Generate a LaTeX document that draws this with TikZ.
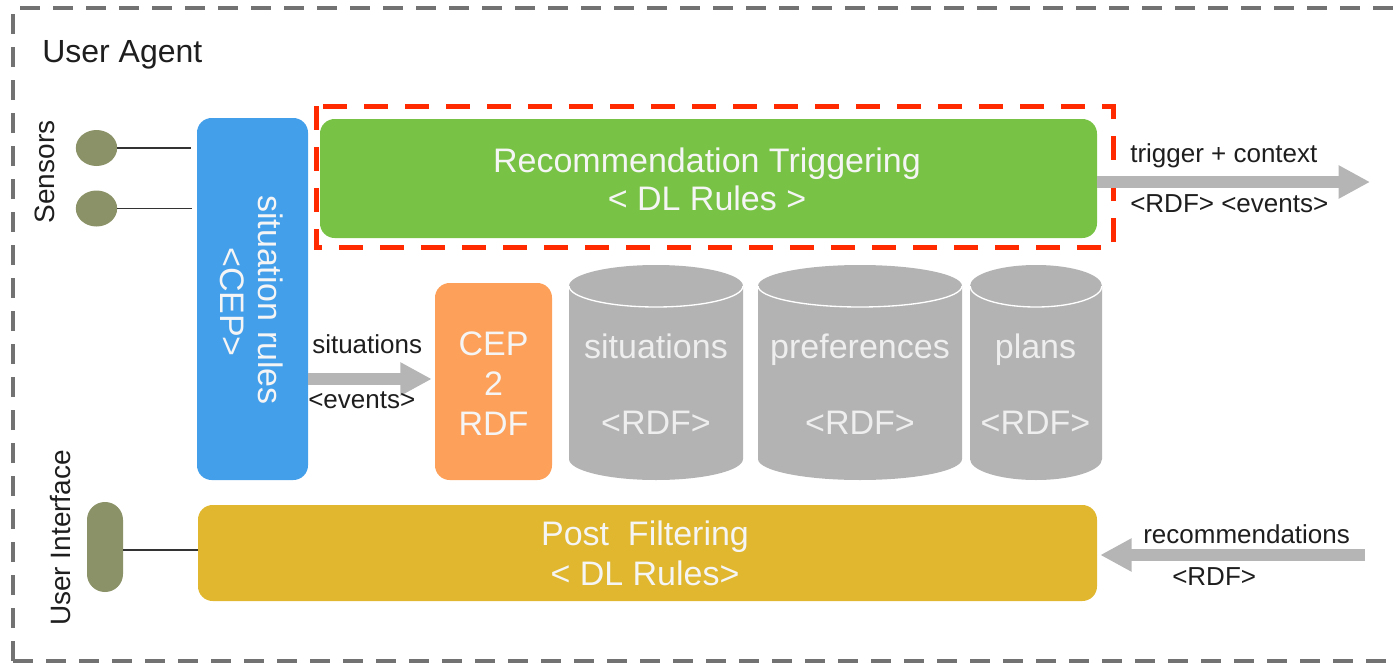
\documentclass[tikz,border=0pt]{standalone}
\usepackage{fontspec}
\setmainfont{Liberation Sans}
\usetikzlibrary{arrows.meta,shapes.geometric}

\definecolor{framegray}{HTML}{727272}
\definecolor{sitblue}{HTML}{449FEB}
\definecolor{recgreen}{HTML}{78C346}
\definecolor{focusred}{HTML}{FF2A00}
\definecolor{cepor}{HTML}{FCA05A}
\definecolor{postyel}{HTML}{E0B72E}
\definecolor{dbgray}{HTML}{B3B3B3}
\definecolor{arrowgray}{HTML}{B5B5B5}
\definecolor{olive}{HTML}{8C9268}
\definecolor{softwhite}{HTML}{F5F5F5}
\definecolor{dbtext}{HTML}{EEEEEE}
\definecolor{wire}{HTML}{333333}
\definecolor{ink}{HTML}{1E1E1E}

\tikzset{
  box/.style={rounded corners=11pt, inner sep=0pt, draw=none},
  bigtxt/.style={text=softwhite, font=\fontsize{25.5}{30}\selectfont, inner sep=0pt, anchor=base},
  dbtxt/.style={bigtxt, text=dbtext},
  smalltxt/.style={text=ink, font=\fontsize{19.5}{23}\selectfont, inner sep=0pt, anchor=base west},
  sidetxt/.style={text=ink, font=\fontsize{21}{25}\selectfont, inner sep=0pt, anchor=base, rotate=90},
  flow/.style={draw=arrowgray, line width=8.5pt, -{Triangle[width=23.5pt,length=23.5pt]}},
  wireline/.style={draw=wire, line width=1.4pt},
  sensor/.style={ellipse, fill=olive, draw=none, inner sep=0pt, minimum width=31pt, minimum height=27pt},
}

\begin{document}
\begin{tikzpicture}[x=0.75pt,y=-0.75pt]
\useasboundingbox (0,0) rectangle (1397,664);

% agent boundary
\draw[framegray, line width=2.3pt, dash pattern=on 15pt off 9.75pt]
  (13,661) -- (13,8) -- (1430,8);
\draw[framegray, line width=2.3pt, dash pattern=on 15pt off 9.75pt]
  (13,661) -- (1430,661);
\node[font=\fontsize{24}{28}\selectfont, text=ink, anchor=base west, inner sep=0pt]
  (title) at (42,62) {User Agent};

% side labels
\node[sidetxt] (senslabel) at (55,172) {Sensors};
\node[sidetxt] (uilabel) at (70,538) {User Interface};

% sensors
\node[sensor] (s1) at (96.5,148) {};
\node[sensor] (s2) at (96.5,208.5) {};
\coordinate (s1end) at (191,148);
\coordinate (s2end) at (192,208.5);
\draw[wireline] (s1.east) -- (s1end);
\draw[wireline] (s2.east) -- (s2end);

% situation rules
\node[box, fill=sitblue, minimum width=83.25pt, minimum height=271.5pt] (sit) at (252.5,299) {};
\node[bigtxt, rotate=-90] (sitT1) at (258,300) {situation rules};
\node[bigtxt, rotate=-90] (sitT2) at (220,302) {<CEP>};

% recommendation triggering
\node[box, fill=recgreen, minimum width=582.75pt, minimum height=89.25pt] (rec) at (708.5,178.5) {};
\node[bigtxt] (recT1) at (707,172) {Recommendation Triggering};
\node[bigtxt] (recT2) at (707,210) {< DL Rules >};
\draw[focusred, line width=3.75pt, dash pattern=on 18pt off 12.75pt]
  (316,106) rectangle (1113,247);

% CEP to RDF
\node[box, fill=cepor, minimum width=87.75pt, minimum height=147.75pt] (cep) at (493.5,381.5) {};
\node[bigtxt] (cepT1) at (493.5,355) {CEP};
\node[bigtxt] (cepT2) at (493.5,395) {2};
\node[bigtxt] (cepT3) at (493.5,435) {RDF};

% RDF stores
\fill[dbgray] (569,286) -- (569,459)
  arc[start angle=180, end angle=360, x radius=65.25pt, y radius=15.75pt]
  -- (743,286) arc[start angle=0, end angle=180, x radius=65.25pt, y radius=15.75pt] -- cycle;
\draw[white, line width=1pt] (569,286)
  arc[start angle=180, end angle=360, x radius=65.25pt, y radius=15.75pt];
\node[dbtxt] (dbsitT1) at (656,358) {situations};
\node[dbtxt] (dbsitT2) at (656,434) {<RDF>};

\fill[dbgray] (758,286) -- (758,459)
  arc[start angle=180, end angle=360, x radius=76.5pt, y radius=15.75pt]
  -- (962,286) arc[start angle=0, end angle=180, x radius=76.5pt, y radius=15.75pt] -- cycle;
\draw[white, line width=1pt] (758,286)
  arc[start angle=180, end angle=360, x radius=76.5pt, y radius=15.75pt];
\node[dbtxt] (dbprefT1) at (860,358) {preferences};
\node[dbtxt] (dbprefT2) at (860,434) {<RDF>};

\fill[dbgray] (970,286) -- (970,459)
  arc[start angle=180, end angle=360, x radius=49.5pt, y radius=15.75pt]
  -- (1102,286) arc[start angle=0, end angle=180, x radius=49.5pt, y radius=15.75pt] -- cycle;
\draw[white, line width=1pt] (970,286)
  arc[start angle=180, end angle=360, x radius=49.5pt, y radius=15.75pt];
\node[dbtxt] (dbplanT1) at (1035.5,358) {plans};
\node[dbtxt] (dbplanT2) at (1035.5,434) {<RDF>};

% post filtering and user interface
\node[box, fill=postyel, minimum width=674.25pt, minimum height=72pt] (post) at (647.5,553) {};
\node[bigtxt] (postT1) at (645,545) {Post\ \ Filtering};
\node[bigtxt] (postT2) at (645,585) {< DL Rules>};
\node[box, fill=olive, rounded corners=13.4pt, minimum width=27pt, minimum height=67.5pt] (ui) at (105,547) {};
\coordinate (uiwire) at (0,550);
\draw[wireline] (ui.east |- uiwire) -- (post.west |- uiwire);

% flows
\coordinate (trigtip) at (1370,182);
\draw[flow] (rec.east |- trigtip) -- (trigtip);
\node[smalltxt] (trigL1) at (1130,162) {trigger + context};
\node[smalltxt] (trigL2) at (1130,212) {<RDF> <events>};

\coordinate (sitflow) at (0,379);
\draw[flow, shorten >=2.25pt] (sit.east |- sitflow) -- (cep.west |- sitflow);
\node[smalltxt] (sitL1) at (312,353) {situations};
\node[smalltxt] (sitL2) at (308,408) {<events>};

\coordinate (recstart) at (1365,555);
\draw[flow, shorten >=2.25pt] (recstart) -- (post.east |- recstart);
\node[smalltxt] (recL1) at (1143,543) {recommendations};
\node[smalltxt] (recL2) at (1172,585) {<RDF>};
\end{tikzpicture}
\end{document}
